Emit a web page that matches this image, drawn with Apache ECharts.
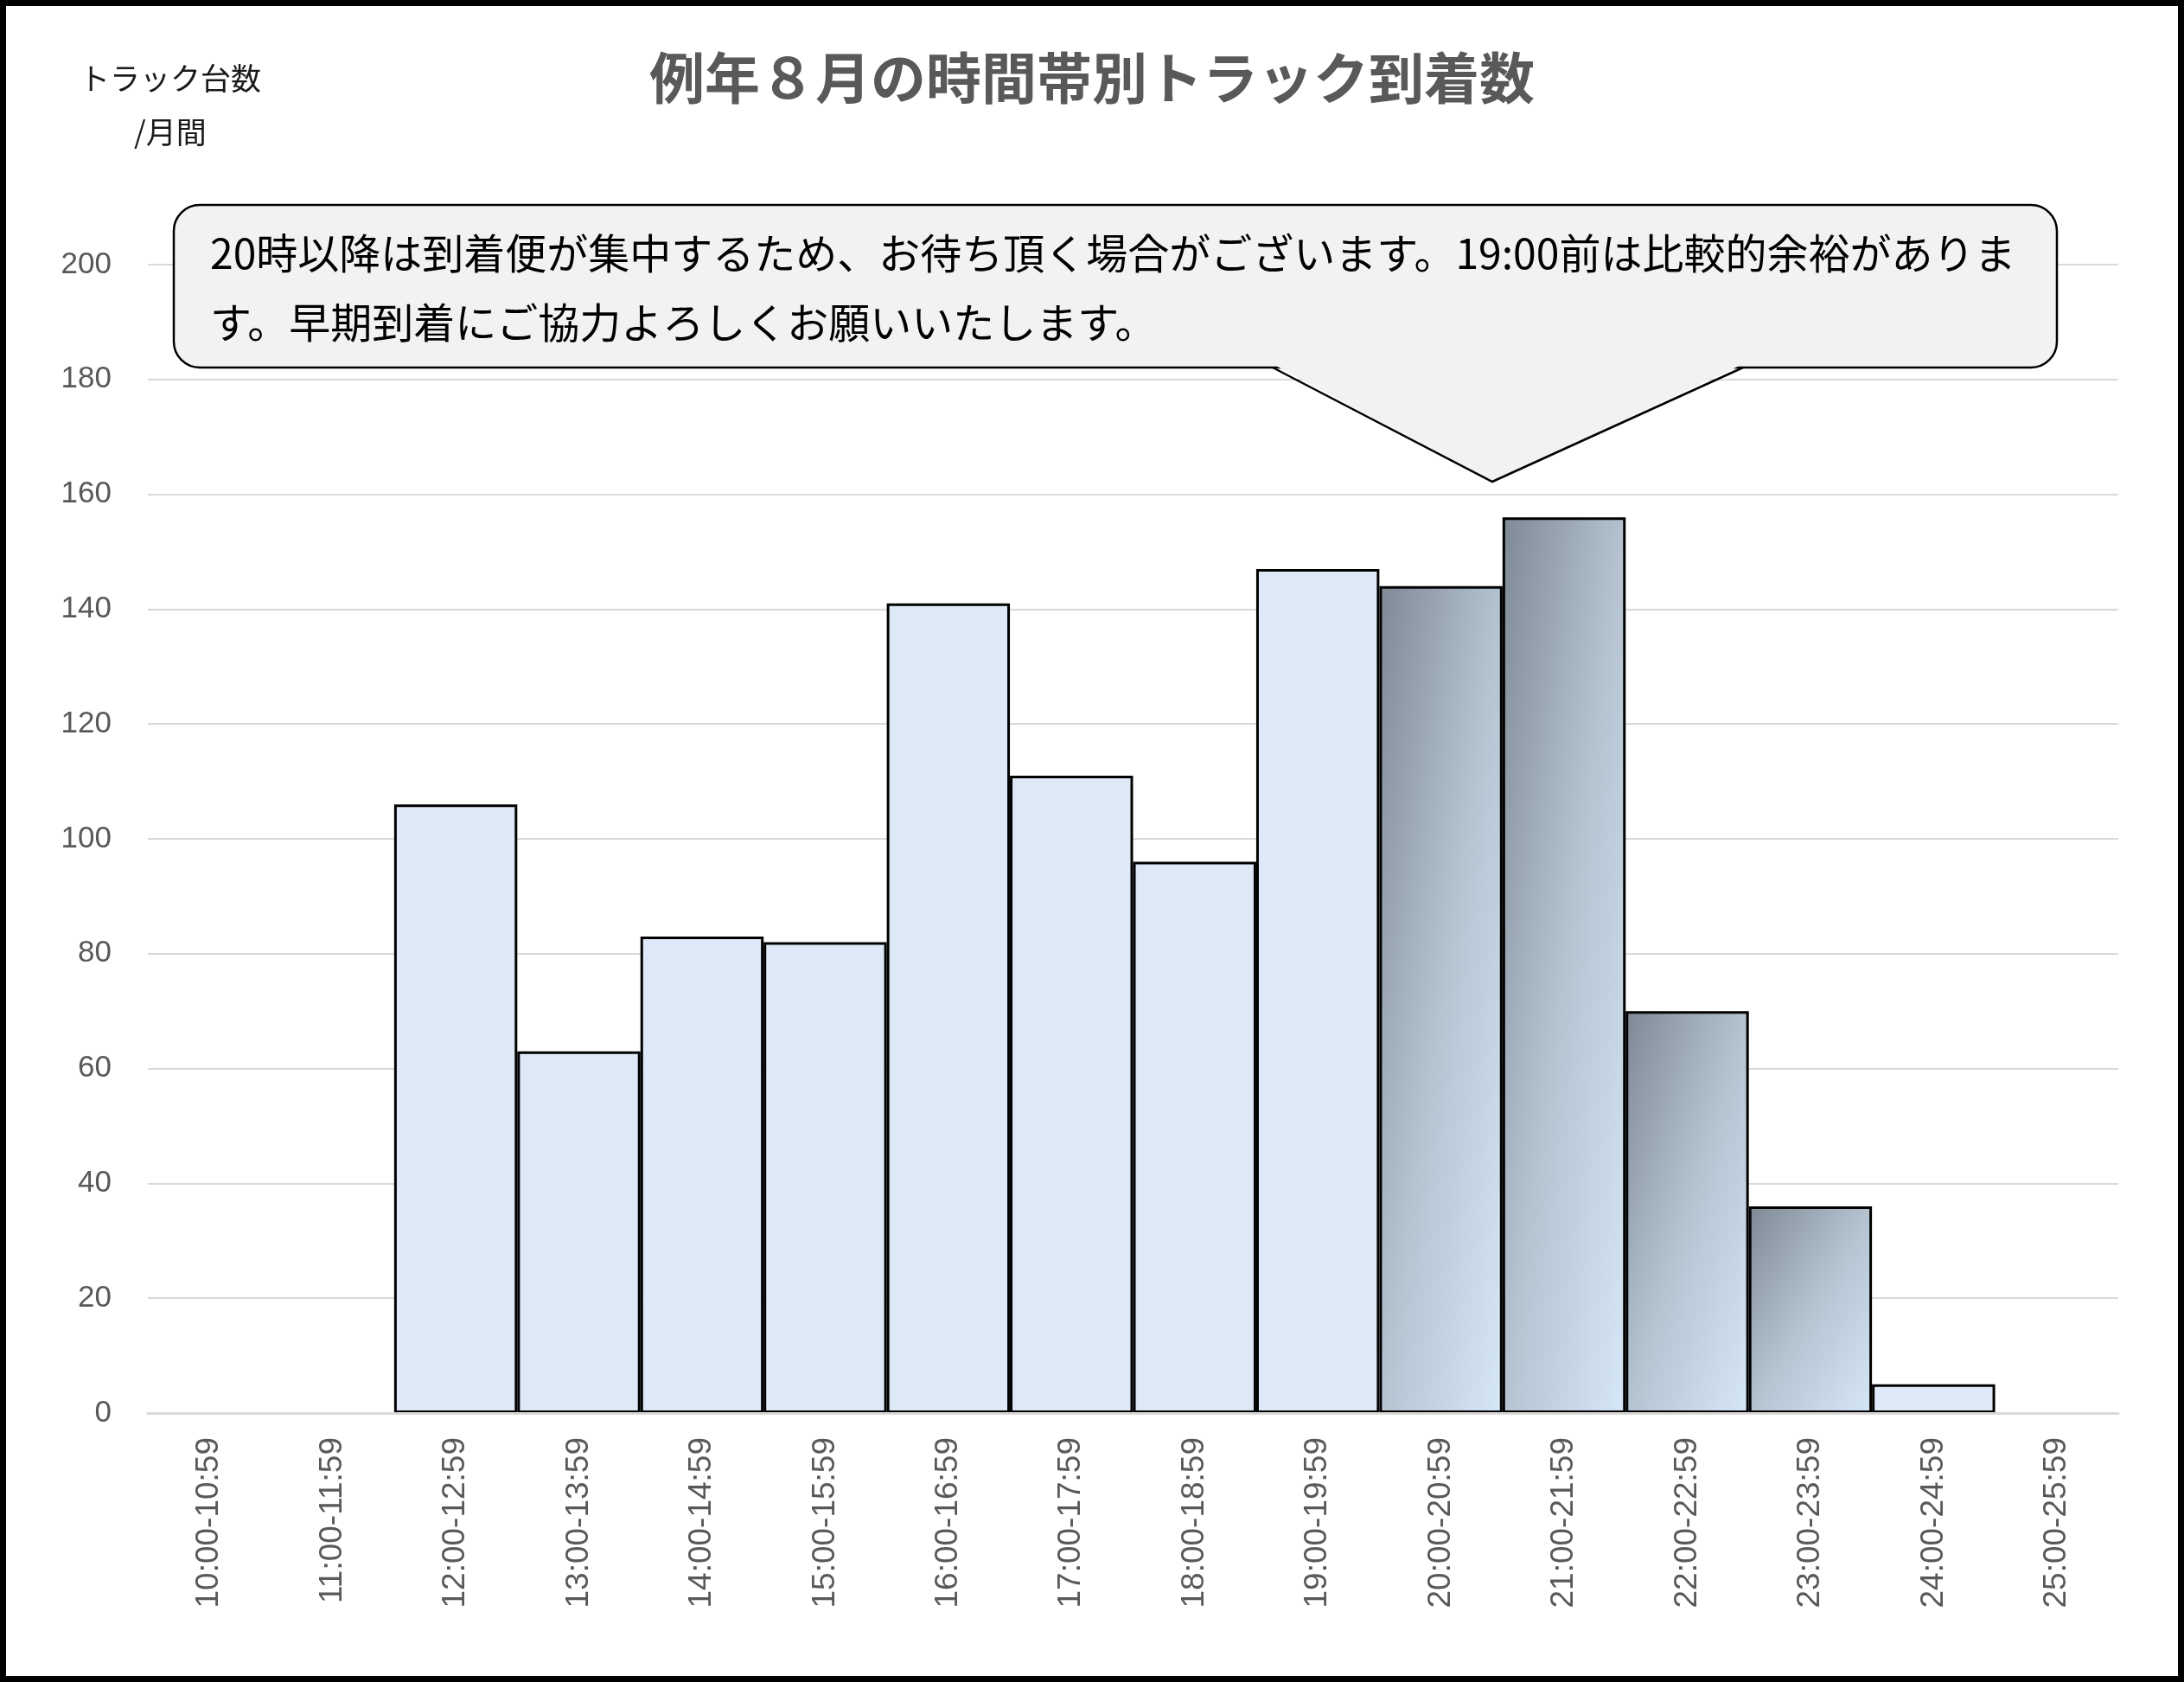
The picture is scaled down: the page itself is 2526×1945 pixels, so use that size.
<!DOCTYPE html>
<html>
<head>
<meta charset="utf-8">
<script src="https://cdn.jsdelivr.net/npm/echarts@6/dist/echarts.min.js"></script>
<style>
  html, body { margin: 0; padding: 0; background: #fff; }
  #chart { width: 2526px; height: 1945px; }
</style>
</head>
<body>
<div id="chart"></div>
<script>
// ---- data ----
const SLOTS = [
  "10:00-10:59", "11:00-11:59", "12:00-12:59", "13:00-13:59",
  "14:00-14:59", "15:00-15:59", "16:00-16:59", "17:00-17:59",
  "18:00-18:59", "19:00-19:59", "20:00-20:59", "21:00-21:59",
  "22:00-22:59", "23:00-23:59", "24:00-24:59", "25:00-25:59",
];
const TRUCKS = [0, 0, 106, 63, 83, 82, 141, 111, 96, 147, 144, 156, 70, 36, 5, 0];
// busy slots (20:00-23:59) get the dark gradient fill
const BUSY = ["20:00-20:59", "21:00-21:59", "22:00-22:59", "23:00-23:59"];
const Y_MIN = 0, Y_MAX = 200, Y_STEP = 20;
const TITLE = "例年８月の時間帯別トラック到着数";
const Y_NAME = ["トラック台数", "/月間"];
const NOTE = [
  "20時以降は到着便が集中するため、お待ち頂く場合がございます。19:00前は比較的余裕がありま",
  "す。早期到着にご協力よろしくお願いいたします。",
];

const JP = '"Noto Sans CJK JP", "Noto Sans", sans-serif';
const LAT = '"Liberation Sans", Arial, sans-serif';
const LIGHT = "#dde9f6";
const GRAD_STOPS = [
  { offset: 0, color: "#7e8994" },
  { offset: 0.5, color: "#b5c3d1" },
  { offset: 1, color: "#d6e7f7" },
];

// Excel-style "scale with shape" diagonal gradient: top-left dark -> bottom-right light,
// normalised to the bar box (so tall bars look mostly left-to-right)
function busyFill(w, h) {
  const d = h * h + w * w;
  return new echarts.graphic.LinearGradient(0, 0, (2 * h * h) / d, (2 * w * w) / d, GRAD_STOPS);
}

const chart = echarts.init(document.getElementById("chart"), null, { renderer: "canvas" });

const W = 2526, H = 1945;
const graphics = [
  // outer frame
  { type: "rect", shape: { x: 0, y: 0, width: W, height: H }, style: { fill: "none", stroke: "#000", lineWidth: 14 }, z: 100 },
  { type: "text", style: { text: TITLE, x: 1263, y: 90, textAlign: "center", textVerticalAlign: "middle",
      font: `bold 64px ${JP}`, fill: "#595959" } },
  { type: "text", style: { text: Y_NAME[0], x: 92, y: 91, textAlign: "left", textVerticalAlign: "middle",
      font: `35px ${JP}`, fill: "#1a1a1a" } },
  { type: "text", style: { text: Y_NAME[1], x: 155, y: 153, textAlign: "left", textVerticalAlign: "middle",
      font: `35px ${JP}`, fill: "#1a1a1a" } },
  // callout box + pointer
  { type: "rect", shape: { x: 201, y: 237, width: 2178, height: 188, r: 30 },
    style: { fill: "#f2f2f2", stroke: "#000", lineWidth: 2.5 }, z: 50 },
  { type: "polygon", shape: { points: [[1472, 421], [2016, 421], [1726, 557]] },
    style: { fill: "#f2f2f2" }, z: 51 },
  { type: "polyline", shape: { points: [[1472, 425], [1726, 557], [2016, 425]] },
    style: { fill: "none", stroke: "#000", lineWidth: 2.5 }, z: 52 },
  { type: "text", style: { text: NOTE[0], x: 243, y: 293, textAlign: "left", textVerticalAlign: "middle",
      font: `48px ${JP}`, fill: "#000" }, z: 53 },
  { type: "text", style: { text: NOTE[1], x: 243, y: 373, textAlign: "left", textVerticalAlign: "middle",
      font: `48px ${JP}`, fill: "#000" }, z: 53 },
];

chart.setOption({
  backgroundColor: "#fff",
  animation: false,
  grid: { left: 171, right: 76, top: 306, bottom: 311, containLabel: false },
  xAxis: {
    type: "category",
    data: SLOTS,
    z: 5,
    axisLine: { lineStyle: { color: "#d9d9d9", width: 3 } },
    axisTick: { show: false },
    axisLabel: { rotate: 90, interval: 0, margin: 28, color: "#595959", fontSize: 37, fontFamily: LAT },
  },
  yAxis: {
    type: "value",
    min: Y_MIN, max: Y_MAX, interval: Y_STEP,
    axisLine: { show: false },
    axisTick: { show: false },
    axisLabel: { margin: 42, color: "#595959", fontSize: 35, fontFamily: LAT },
    splitLine: { lineStyle: { color: "#d9d9d9", width: 2 } },
  },
  series: [{
    type: "bar",
    data: TRUCKS,
    barCategoryGap: "0%",
    itemStyle: { color: LIGHT, borderColor: "#000", borderWidth: 3 },
    z: 2,
  }],
  graphic: graphics,
});

// second pass: per-bar styles sized from the laid-out axes
const bandW = chart.convertToPixel({ xAxisIndex: 0 }, 1) - chart.convertToPixel({ xAxisIndex: 0 }, 0);
const y0 = chart.convertToPixel({ yAxisIndex: 0 }, 0);
chart.setOption({
  series: [{
    data: TRUCKS.map((v, i) => {
      if (v === 0) return { value: v, itemStyle: { borderWidth: 0 } };
      if (!BUSY.includes(SLOTS[i])) return v;
      const h = Math.max(1, y0 - chart.convertToPixel({ yAxisIndex: 0 }, v));
      return { value: v, itemStyle: { color: busyFill(bandW, h) } };
    }),
  }],
});
</script>
</body>
</html>
